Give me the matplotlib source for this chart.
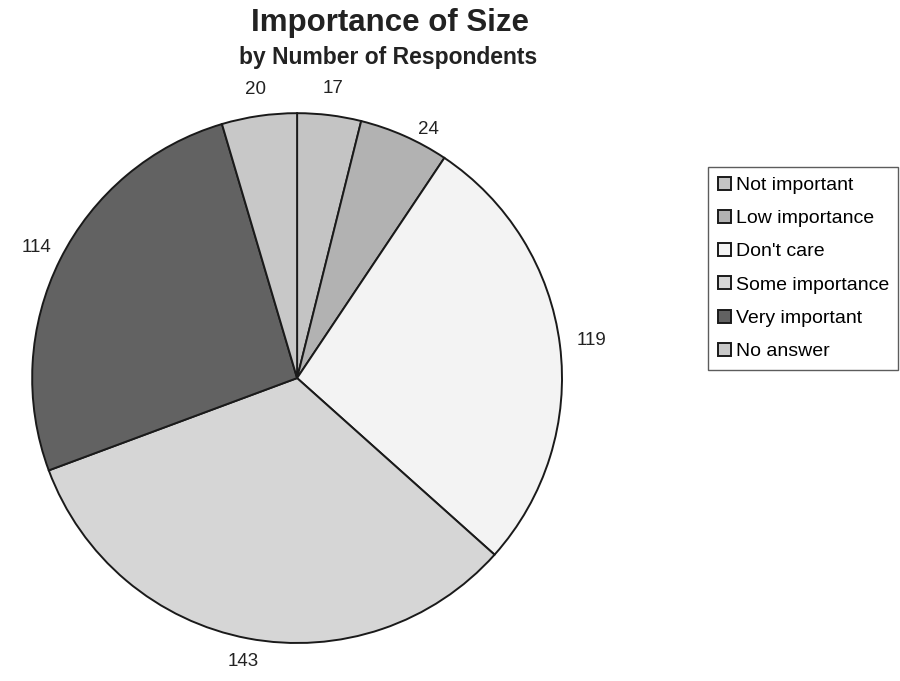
import numpy as np
import matplotlib
matplotlib.use("Agg")
import matplotlib.pyplot as plt

plt.rcParams["font.family"] = ["Liberation Sans", "DejaVu Sans"]

categories = ["Not important", "Low importance", "Don't care",
              "Some importance", "Very important", "No answer"]
respondents = [17, 24, 119, 143, 114, 20]

colors = ["#c4c4c4", "#b2b2b2", "#f3f3f3", "#d6d6d6", "#626262", "#c8c8c8"]
# label placement: radius (in pie radii) and small angular nudge (degrees)
label_r = [1.10, 1.06, 1.12, 1.09, 1.10, 1.10]
label_nudge = [0, 4, 0, 0, 0, 0]

fig = plt.figure(figsize=(9, 6.81), dpi=100)
ax = fig.add_axes([0.0356, 0.0558, 0.589, 0.778])

wedges, _ = ax.pie(respondents, colors=colors, startangle=90, counterclock=False,
                   radius=1.0,
                   wedgeprops=dict(edgecolor="#1a1a1a", linewidth=1.4))
ax.set_xlim(-1, 1)
ax.set_ylim(-1, 1)
ax.set_aspect("equal")
ax.axis("off")

# value labels outside each wedge
total = sum(respondents)
start = 0.0
for val, r, nudge in zip(respondents, label_r, label_nudge):
    mid = start + val / total * 360 / 2 + nudge
    a = np.deg2rad(mid)
    ax.text(r * np.sin(a), r * np.cos(a), str(val), ha="center", va="center",
            fontsize=13.5, color="#222222", clip_on=False)
    start += val / total * 360

fig.text(0.433, 0.966, "Importance of Size", ha="center", va="center",
         fontsize=22.5, fontweight="bold", color="#222222")
fig.text(0.431, 0.915, "by Number of Respondents", ha="center", va="center",
         fontsize=16.5, fontweight="bold", color="#222222")

leg = fig.legend(wedges, categories, loc="upper left",
                 bbox_to_anchor=(0.787, 0.755), fontsize=14,
                 frameon=True, fancybox=False, handlelength=0.65,
                 handleheight=0.65, handletextpad=0.25, labelspacing=0.82,
                 borderpad=0.5, borderaxespad=0)
leg.get_frame().set_edgecolor("#333333")
leg.get_frame().set_linewidth(1.0)

fig.savefig("out.png", dpi=100)
